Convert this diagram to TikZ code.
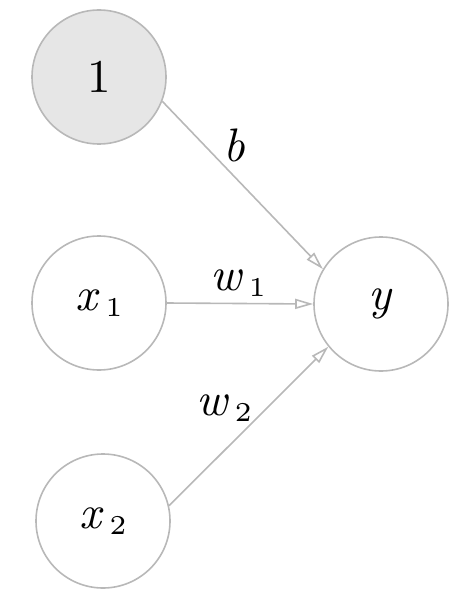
\documentclass[tikz,border=0pt]{standalone}
\usetikzlibrary{arrows.meta}
\definecolor{edgegray}{HTML}{B8B8B8}
\definecolor{biasfill}{HTML}{E6E6E6}
\newcommand{\biglbl}[1]{\scalebox{4.7}{\fontsize{10}{10}\selectfont #1}}
\newcommand{\subs}[1]{\hspace{1.2pt}\raisebox{-1.2pt}{\upshape\fontsize{5.8}{5.8}\selectfont #1}}
\begin{document}
\begin{tikzpicture}[x=1pt,y=-1pt,
  neuron/.style={circle, draw=edgegray, line width=1.6pt, minimum size=134pt, inner sep=0pt},
  conn/.style={draw=edgegray, line width=1.6pt, -{Triangle[open, length=18pt, width=10pt]}},
  wlabel/.style={inner sep=0pt}]
\useasboundingbox (0,0) rectangle (469,596);
\node[neuron, fill=biasfill] (one) at (99,77) {\biglbl{1}};
\node[neuron] (xa) at (99,303) {\biglbl{\textit{x}\subs{1}}};
\node[neuron] (xb) at (103,521) {\biglbl{\textit{x}\subs{2}}};
\node[neuron] (y) at (381,304) {\biglbl{\textit{y}}};
\draw[conn] (one.-21) -- (y.149);
\draw[conn] (xa.east) -- (y.west);
\draw[conn] (xb.13) -- (y.-141);
\node[wlabel] (lb) at (234,145) {\biglbl{\textit{b}}};
\node[wlabel] (lw1) at (238,283) {\biglbl{\textit{w}\subs{1}}};
\node[wlabel] (lw2) at (224,408) {\biglbl{\textit{w}\subs{2}}};
\end{tikzpicture}
\end{document}
